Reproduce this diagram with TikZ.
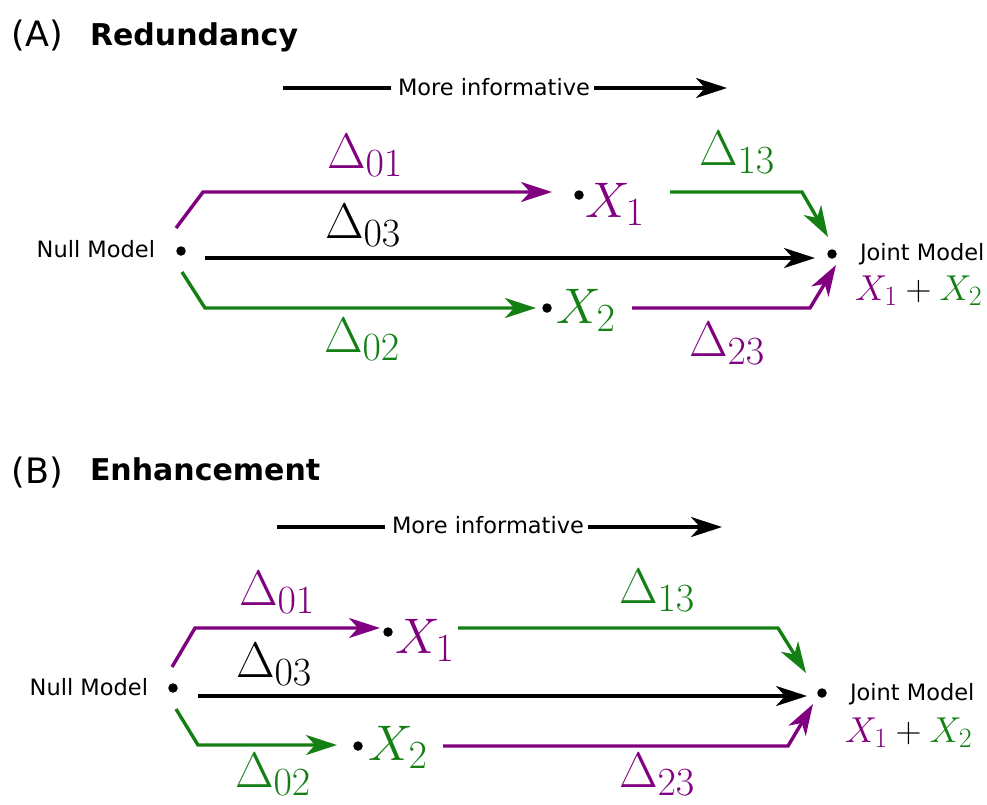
\RequirePackage{fix-cm}
\documentclass[tikz,border=0pt]{standalone}
\usepackage{fontspec}
\newfontfamily\dv{DejaVu Sans}
\usetikzlibrary{arrows.meta}
\DeclareMathSizes{50}{50}{40}{30}
\DeclareMathSizes{36}{36}{28}{20}
\definecolor{pu}{RGB}{128,0,128}
\definecolor{gr}{RGB}{20,128,20}
\tikzset{
  every node/.style={inner sep=0pt, outer sep=0pt},
  dot/.style={circle, fill=black, minimum size=9.5pt},
  lbl/.style={font=\dv\fontsize{22.5}{27}\selectfont, anchor=base west},
  lblr/.style={font=\dv\fontsize{22.5}{27}\selectfont, anchor=base east},
  ttlp/.style={font=\dv\fontsize{35}{42}\selectfont, anchor=base west},
  ttl/.style={font=\dv\bfseries\fontsize{30}{36}\selectfont, anchor=base west},
  mth/.style={font=\fontsize{50}{60}\selectfont, anchor=base west},
  smth/.style={font=\fontsize{36}{43}\selectfont, anchor=base west},
  con/.style={line width=3.4pt, line join=miter, -{Stealth[length=31pt,width=20pt,inset=9pt]}},
  plain/.style={line width=3.4pt}
}
\begin{document}
\begin{tikzpicture}[x=1pt,y=-1pt]
\useasboundingbox (0,0) rectangle (987,804);

%% ---------------- Panel A ----------------
\node[ttlp] (Atag) at (12,46) {(A)};
\node[ttl] (Attl) at (90,45) {Redundancy};

\node[lbl] (Amore) at (398,95) {More informative};
\coordinate (Ams) at (283,88);
\coordinate (Ame) at (727,88);
\draw[plain, shorten >=7pt] (Ams) -- (Amore.west |- Ams);
\draw[con, shorten <=4pt] (Amore.east |- Ame) -- (Ame);

\node[dot] (An) at (181,251) {};
\node[dot] (Ax1) at (579,195) {};
\node[dot] (Ax2) at (547,308) {};
\node[dot] (Aj) at (832,254) {};

\node[lblr] (Anl) at (155,257) {Null Model};
\node[lbl] (Ajl) at (860,260) {Joint Model};
\node[smth] (Ajx) at (855,300) {$\textcolor{pu}{X_1}+\textcolor{gr}{X_2}$};
\node[mth, text=pu] (Ax1l) at (585,217) {$X_1$};
\node[mth, text=gr] (Ax2l) at (556,323) {$X_2$};

\node[mth, text=pu] (Ad01) at (327,168) {$\Delta_{01}$};
\node[mth] (Ad03) at (325,238) {$\Delta_{03}$};
\node[mth, text=gr] (Ad02) at (324,352) {$\Delta_{02}$};
\node[mth, text=gr] (Ad13) at (699,165) {$\Delta_{13}$};
\node[mth, text=pu] (Ad23) at (689,356) {$\Delta_{23}$};

\coordinate (A01s) at (176,228);
\coordinate (A01c) at (203,192);
\coordinate (A01e) at (552,192);
\draw[con, pu] (A01s) -- (A01c) -- (A01e);

\coordinate (A03s) at (205,258);
\coordinate (A03e) at (815,258);
\draw[con] (A03s) -- (A03e);

\coordinate (A02s) at (182,272);
\coordinate (A02c) at (205,308);
\coordinate (A02e) at (536,308);
\draw[con, gr] (A02s) -- (A02c) -- (A02e);

\coordinate (A13s) at (670,192);
\coordinate (A13c) at (802,192);
\coordinate (A13e) at (828,237);
\draw[con, gr] (A13s) -- (A13c) -- (A13e);

\coordinate (A23s) at (632,308);
\coordinate (A23c) at (810,308);
\coordinate (A23e) at (836,265);
\draw[con, pu] (A23s) -- (A23c) -- (A23e);

%% ---------------- Panel B ----------------
\node[ttlp] (Btag) at (12,483) {(B)};
\node[ttl] (Bttl) at (90,480) {Enhancement};

\node[lbl] (Bmore) at (392,533) {More informative};
\coordinate (Bms) at (277,527);
\coordinate (Bme) at (722,527);
\draw[plain, shorten >=7pt] (Bms) -- (Bmore.west |- Bms);
\draw[con, shorten <=4pt] (Bmore.east |- Bme) -- (Bme);

\node[dot] (Bn) at (173,688) {};
\node[dot] (Bx1) at (388,632) {};
\node[dot] (Bx2) at (358,746) {};
\node[dot] (Bj) at (822,693) {};

\node[lblr] (Bnl) at (148,695) {Null Model};
\node[lbl] (Bjl) at (850,700) {Joint Model};
\node[smth] (Bjx) at (845,742) {$\textcolor{pu}{X_1}+\textcolor{gr}{X_2}$};
\node[mth, text=pu] (Bx1l) at (395,653) {$X_1$};
\node[mth, text=gr] (Bx2l) at (368,760) {$X_2$};

\node[mth, text=pu] (Bd01) at (239,605) {$\Delta_{01}$};
\node[mth] (Bd03) at (236,677) {$\Delta_{03}$};
\node[mth, text=gr] (Bd02) at (235,787) {$\Delta_{02}$};
\node[mth, text=gr] (Bd13) at (619,603) {$\Delta_{13}$};
\node[mth, text=pu] (Bd23) at (619,787) {$\Delta_{23}$};

\coordinate (B01s) at (172,667);
\coordinate (B01c) at (195,628);
\coordinate (B01e) at (380,628);
\draw[con, pu] (B01s) -- (B01c) -- (B01e);

\coordinate (B03s) at (198,696);
\coordinate (B03e) at (807,696);
\draw[con] (B03s) -- (B03e);

\coordinate (B02s) at (176,709);
\coordinate (B02c) at (198,745);
\coordinate (B02e) at (337,745);
\draw[con, gr] (B02s) -- (B02c) -- (B02e);

\coordinate (B13s) at (458,628);
\coordinate (B13c) at (778,628);
\coordinate (B13e) at (806,673);
\draw[con, gr] (B13s) -- (B13c) -- (B13e);

\coordinate (B23s) at (443,746);
\coordinate (B23c) at (788,746);
\coordinate (B23e) at (813,704);
\draw[con, pu] (B23s) -- (B23c) -- (B23e);
\end{tikzpicture}
\end{document}
